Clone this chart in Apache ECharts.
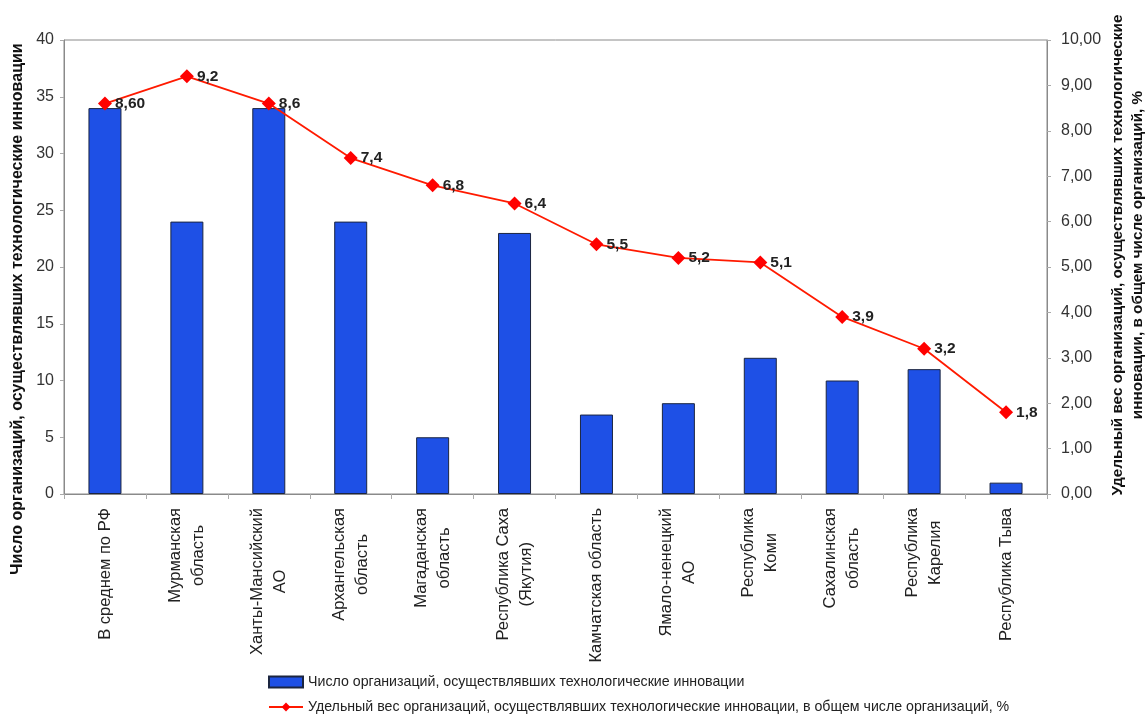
<!DOCTYPE html>
<html><head><meta charset="utf-8">
<script src="https://cdn.jsdelivr.net/npm/echarts@6/dist/echarts.min.js"></script>
<style>html,body{margin:0;padding:0;background:#fff}#c{width:1146px;height:717px}</style>
</head><body><div id="c"></div>
<script>
const categories = ['В среднем по РФ', 'Мурманская\nобласть', 'Ханты-Мансийский\nАО', 'Архангельская\nобласть', 'Магаданская\nобласть', 'Республика Саха\n(Якутия)', 'Камчатская область', 'Ямало-ненецкий\nАО', 'Республика\nКоми', 'Сахалинская\nобласть', 'Республика\nКарелия', 'Республика Тыва'];
const orgCount = [34, 24, 34, 24, 5, 23, 7, 8, 12, 10, 11, 1];
const sharePct = [8.6, 9.2, 8.6, 7.4, 6.8, 6.4, 5.5, 5.2, 5.1, 3.9, 3.2, 1.8];
const shareLabels = ['8,60', '9,2', '8,6', '7,4', '6,8', '6,4', '5,5', '5,2', '5,1', '3,9', '3,2', '1,8'];
const barName = 'Число организаций, осуществлявших технологические инновации';
const lineName = 'Удельный вес организаций, осуществлявших технологические инновации, в общем числе организаций, %';
const leftTitle = 'Число организаций, осуществлявших технологические инновации';
const rightTitle = 'Удельный вес организаций, осуществлявших технологические\nинновации, в общем числе организаций, %';

const FF = '"Liberation Sans", Arial, sans-serif';
const legendText = {fontSize: 14.2, color: '#222', fontFamily: FF};
const chart = echarts.init(document.getElementById('c'));
chart.setOption({
  animation: false,
  textStyle: {fontFamily: FF},
  grid: {left: 64, right: 99, top: 40, bottom: 223, show: true, borderColor: '#8a8a8a', borderWidth: 1, backgroundColor: '#fff'},
  legend: [{
    left: 263, top: 670, itemWidth: 34, itemHeight: 11, itemGap: 4,
    textStyle: legendText, data: [{name: barName, icon: 'rect'}]
  }, {
    left: 263, top: 695, itemWidth: 34, itemHeight: 11, itemGap: 4,
    textStyle: legendText, data: [{name: lineName}]
  }],
  xAxis: {
    type: 'category', data: categories,
    axisLine: {lineStyle: {color: '#8a8a8a'}},
    axisTick: {show: true, length: 5, lineStyle: {color: '#aaa'}},
    axisLabel: {
      rotate: 90, interval: 0, margin: 14, color: '#222', fontSize: 16.5, lineHeight: 23,
      formatter: v => v.split('\n').map(l => '{c|' + l + '}').join('\n'),
      rich: {c: {align: 'center', fontSize: 16.5, lineHeight: 23, color: '#222', fontFamily: FF}}
    }
  },
  yAxis: [{
    type: 'value', min: 0, max: 40, interval: 5,
    axisLine: {show: true, lineStyle: {color: '#8a8a8a'}},
    axisTick: {show: true, length: 4, lineStyle: {color: '#aaa'}},
    splitLine: {show: false},
    axisLabel: {color: '#333', fontSize: 16, margin: 10}
  }, {
    type: 'value', min: 0, max: 10, interval: 1, position: 'right',
    axisLine: {show: true, lineStyle: {color: '#8a8a8a'}},
    axisTick: {show: true, length: 4, lineStyle: {color: '#aaa'}},
    splitLine: {show: false},
    axisLabel: {color: '#333', fontSize: 16, margin: 14, formatter: v => v.toFixed(2).replace('.', ',')}
  }],
  series: [{
    name: barName, type: 'bar', data: orgCount, barWidth: 33, yAxisIndex: 0,
    itemStyle: {color: '#1e50e6', borderColor: '#1b2540', borderWidth: 1}
  }, {
    name: lineName, type: 'line', data: sharePct, yAxisIndex: 1,
    symbol: 'diamond', symbolSize: 14, z: 5,
    lineStyle: {color: '#ff1a00', width: 1.8},
    itemStyle: {color: '#ff0000'},
    label: {show: true, position: 'right', distance: 3, color: '#222', fontWeight: 'bold', fontSize: 15.5,
      formatter: p => shareLabels[p.dataIndex]}
  }],
  graphic: [{
    type: 'text', x: 18, y: 309, rotation: Math.PI / 2,
    style: {text: leftTitle, fontFamily: FF, fontSize: 16, fontWeight: 'bold', fill: '#111', textAlign: 'center', textVerticalAlign: 'middle'}
  }, {
    type: 'text', x: 1128, y: 255, rotation: Math.PI / 2,
    style: {text: rightTitle, fontFamily: FF, fontSize: 15.3, fontWeight: 'bold', fill: '#111', textAlign: 'center', textVerticalAlign: 'middle', lineHeight: 20}
  }]
});
</script></body></html>
